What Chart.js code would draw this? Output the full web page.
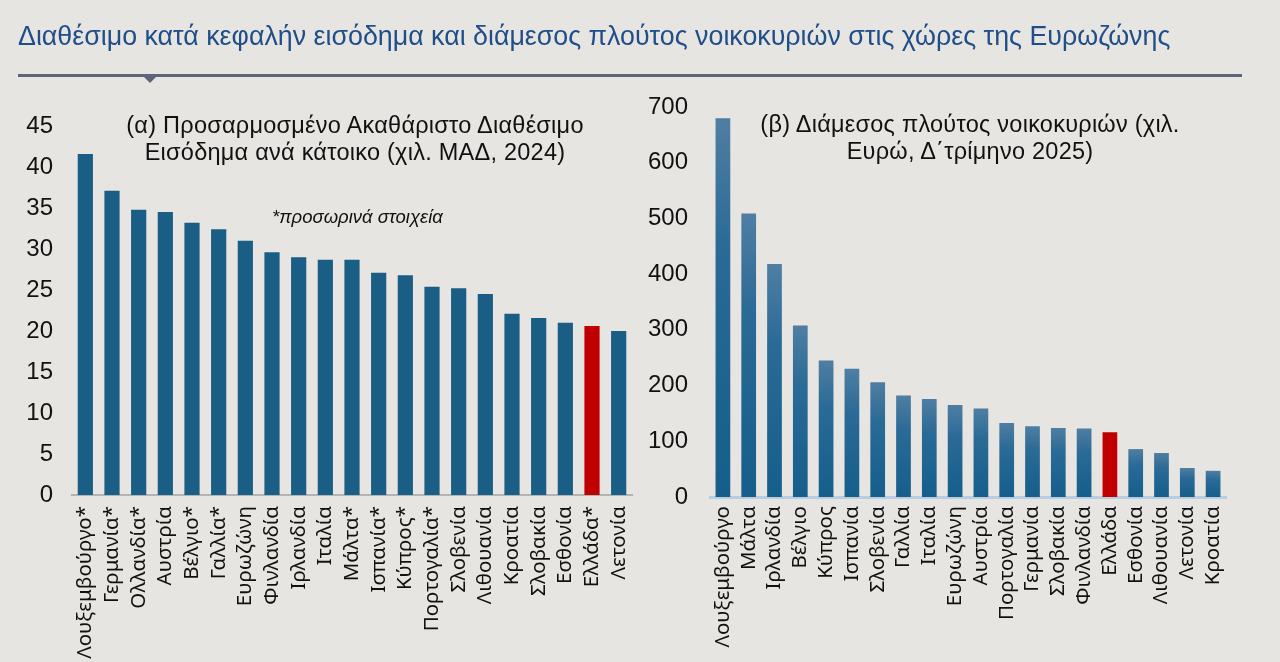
<!DOCTYPE html>
<html lang="el">
<head>
<meta charset="utf-8">
<script src="https://cdn.jsdelivr.net/npm/chart.js@4.4.1/dist/chart.umd.min.js"></script>
<style>
  html, body { margin:0; padding:0; }
  body { width:1280px; height:662px; background:#e6e5e1; position:relative; overflow:hidden; font-family:"Liberation Sans", Arial, sans-serif; }
  .abs { position:absolute; }
  #mainTitle { left:18px; top:21px; font-size:26.8px; line-height:31px; color:#1f4e89; white-space:nowrap; }
  #rule { left:18px; top:74px; width:1224px; height:3px; background:#5d6678; }
  #notch { left:143px; top:76px; width:0; height:0; border-left:7px solid transparent; border-right:7px solid transparent; border-top:7px solid #5d6678; }
  .sub { font-size:23.5px; letter-spacing:0.25px; color:#111; text-align:center; line-height:27px; white-space:nowrap; }
  #subA { left:72px; width:566px; top:112px; }
  #subB { left:710px; width:520px; top:111px; }
  #note { left:272px; top:206px; font-size:18.5px; line-height:21px; font-style:italic; color:#111; }
  .box { position:absolute; left:0; top:0; width:1280px; height:662px; }
</style>
</head>
<body>
<div class="box"><canvas id="cA"></canvas></div>
<div class="box"><canvas id="cB"></canvas></div>
<div id="mainTitle" class="abs">Διαθέσιμο κατά κεφαλήν εισόδημα και διάμεσος πλούτος νοικοκυριών στις χώρες της Ευρωζώνης</div>
<div id="rule" class="abs"></div>
<div id="notch" class="abs"></div>
<div id="subA" class="abs sub">(α) Προσαρμοσμένο Ακαθάριστο Διαθέσιμο<br>Εισόδημα ανά κάτοικο (χιλ. ΜΑΔ, 2024)</div>
<div id="subB" class="abs sub">(β) Διάμεσος πλούτος νοικοκυριών (χιλ.<br>Ευρώ, Δ΄τρίμηνο 2025)</div>
<div id="note" class="abs">*προσωρινά στοιχεία</div>
<script>
// ---- Data ----
const incomeCountries = ["Λουξεμβούργο*","Γερμανία*","Ολλανδία*","Αυστρία","Βέλγιο*","Γαλλία*","Ευρωζώνη","Φινλανδία","Ιρλανδία","Ιταλία","Μάλτα*","Ισπανία*","Κύπρος*","Πορτογαλία*","Σλοβενία","Λιθουανία","Κροατία","Σλοβακία","Εσθονία","Ελλάδα*","Λετονία"];
const incomeValues = [41.6,37.1,34.8,34.5,33.2,32.4,31.0,29.6,29.0,28.7,28.7,27.1,26.8,25.4,25.2,24.5,22.1,21.6,21.0,20.6,20.0];
const incomeTicks = [0,5,10,15,20,25,30,35,40,45];

const wealthCountries = ["Λουξεμβούργο","Μάλτα","Ιρλανδία","Βέλγιο","Κύπρος","Ισπανία","Σλοβενία","Γαλλία","Ιταλία","Ευρωζώνη","Αυστρία","Πορτογαλία","Γερμανία","Σλοβακία","Φινλανδία","Ελλάδα","Εσθονία","Λιθουανία","Λετονία","Κροατία"];
const wealthValues = [680,509,418,308,245,230,206,182,176,165,159,133,127,124,123,116,86,79,52,47];
const wealthTicks = [0,100,200,300,400,500,600,700];

const highlight = "Ελλάδα";
const BLUE = "#1b5e85", RED = "#c00000";
const W = 1280, H = 662;

function isGreece(label){ return label.replace("*","") === highlight; }
function yTicksCb(ticks){ return function(scale){ scale.ticks = ticks.map(v => ({value:v})); }; }

const xFont = { family: "'Noto Sans', sans-serif", size: 20.5 };
const yFont = { family: "'Liberation Sans', Arial, sans-serif", size: 24 };

// ---- Chart (α) ----
new Chart(document.getElementById("cA"), {
  type: "bar",
  data: {
    labels: incomeCountries,
    datasets: [{
      data: incomeValues,
      backgroundColor: incomeCountries.map(c => isGreece(c) ? RED : BLUE),
      categoryPercentage: 1.0,
      barPercentage: 0.57
    }]
  },
  options: {
    responsive: true, maintainAspectRatio: false, animation: false,
    layout: { padding: { left: 0, top: 126, right: W - 632, bottom: 0 } },
    plugins: { legend: { display: false }, tooltip: { enabled: false }, title: { display: false } },
    scales: {
      x: {
        grid: { display: false, drawTicks: false },
        border: { display: true, color: "#b4b4b4", width: 2 },
        ticks: { autoSkip: false, minRotation: 90, maxRotation: 90, padding: 11, color: "#111", font: xFont },
        afterFit: s => { s.height = H - 495; }
      },
      y: {
        min: 0, max: 45,
        grid: { display: false, drawTicks: false },
        border: { display: false },
        afterBuildTicks: yTicksCb(incomeTicks),
        ticks: { padding: 19, color: "#111", font: yFont },
        afterFit: s => { s.width = 72; }
      }
    }
  }
});

// ---- Chart (β) ----
function wealthColor(ctx){
  const label = wealthCountries[ctx.dataIndex];
  if (isGreece(label)) return RED;
  const chart = ctx.chart;
  if (!chart.chartArea || !chart.scales.y) return BLUE;
  const y0 = chart.scales.y.getPixelForValue(0);
  const y1 = chart.scales.y.getPixelForValue(wealthValues[ctx.dataIndex]);
  const g = chart.ctx.createLinearGradient(0, y1, 0, y0);
  g.addColorStop(0, "#4f7ea3");
  g.addColorStop(0.35, "#2a6a96");
  g.addColorStop(1, "#155e8b");
  return g;
}

new Chart(document.getElementById("cB"), {
  type: "bar",
  data: {
    labels: wealthCountries,
    datasets: [{
      data: wealthValues,
      backgroundColor: wealthColor,
      categoryPercentage: 1.0,
      barPercentage: 0.57
    }]
  },
  options: {
    responsive: true, maintainAspectRatio: false, animation: false,
    layout: { padding: { left: 640, top: 107, right: W - 1226, bottom: 0 } },
    plugins: { legend: { display: false }, tooltip: { enabled: false }, title: { display: false } },
    scales: {
      x: {
        grid: { display: false, drawTicks: false },
        border: { display: true, color: "#b8cce2", width: 3 },
        ticks: { autoSkip: false, minRotation: 90, maxRotation: 90, padding: 9, color: "#111", font: xFont },
        afterFit: s => { s.height = H - 497; }
      },
      y: {
        min: 0, max: 700,
        grid: { display: false, drawTicks: false },
        border: { display: false },
        afterBuildTicks: yTicksCb(wealthTicks),
        ticks: { padding: 22, color: "#111", font: yFont },
        afterFit: s => { s.width = 70; }
      }
    }
  }
});
</script>
</body>
</html>
